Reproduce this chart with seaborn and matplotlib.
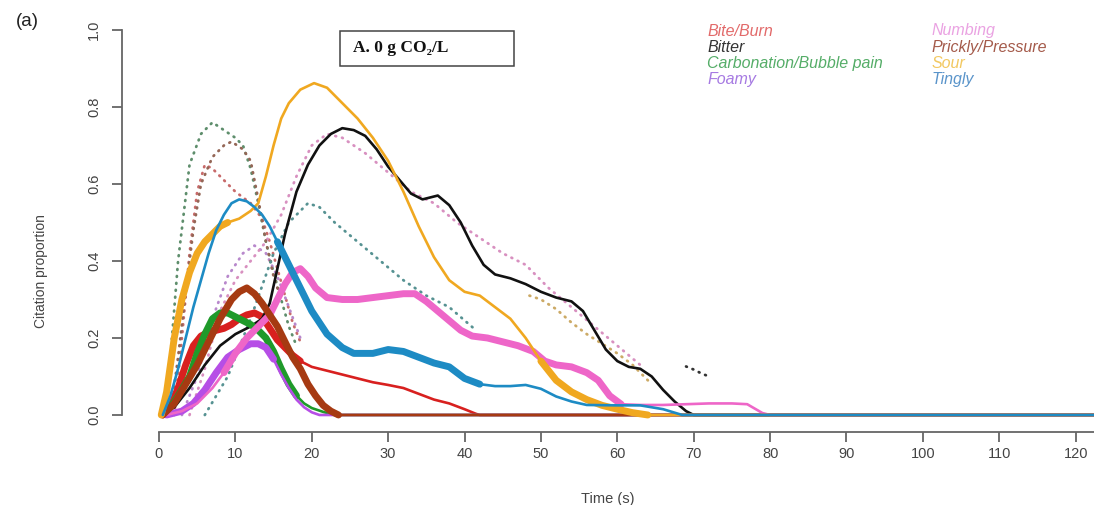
import seaborn as sns
import matplotlib.pyplot as plt
import pandas as pd
from matplotlib.patches import Rectangle

# attributes and colours
attributes = ["Bite/Burn", "Bitter", "Carbonation/Bubble pain", "Foamy",
              "Numbing", "Prickly/Pressure", "Sour", "Tingly"]
line_colors = ["#d8201f", "#111111", "#1f9a2a", "#b64ee6",
               "#ee66c8", "#a63a12", "#f0a820", "#1d8bc4"]
label_colors = ["#e26a6a", "#333333", "#55ad68", "#a67ae2",
                "#eaa2e2", "#a45a4a", "#f2c860", "#5a94ca"]
dot_colors = ["#c86a6a", "#333333", "#5e8e6c", "#b888cc",
              "#d890c0", "#946656", "#ccaa66", "#569292"]

# TDS curves (time in s, citation proportion)
bite_t = [0.5, 1.5, 2.5, 3.5, 4.5, 5.5, 6.5, 7.5, 8.5, 9.5, 10.5, 11.5, 12.5, 13.5, 14.5,
          15.5, 16.5, 17.5, 18.5, 20, 22, 24, 26, 28, 30, 32, 34, 36, 38, 40, 41.5, 42, 125]
bite_p = [0, 0.02, 0.07, 0.13, 0.18, 0.205, 0.215, 0.22, 0.225, 0.235, 0.25, 0.26, 0.265, 0.255, 0.225,
          0.195, 0.175, 0.155, 0.14, 0.125, 0.115, 0.105, 0.095, 0.085, 0.078, 0.07, 0.055, 0.04, 0.03, 0.015, 0.003, 0, 0]

bitter_t = [0.5, 2, 4, 6, 8, 10, 12, 13.5, 14.5, 15.5, 16.5, 18, 19.5, 21, 22.5, 24, 25.5, 27, 28.5, 30,
            31.5, 33, 34.5, 36.5, 38, 39.5, 41, 42.5, 44, 46, 48, 50, 52, 54, 55.5, 57, 58.5, 60, 61.5, 63,
            64.5, 66, 67.5, 69, 70, 125]
bitter_p = [0, 0.02, 0.07, 0.13, 0.18, 0.21, 0.23, 0.25, 0.29, 0.38, 0.47, 0.58, 0.65, 0.70, 0.73, 0.745, 0.74, 0.725, 0.69, 0.645,
            0.61, 0.575, 0.56, 0.57, 0.545, 0.50, 0.44, 0.39, 0.365, 0.355, 0.34, 0.32, 0.305, 0.295, 0.27, 0.22, 0.17, 0.14, 0.125, 0.12,
            0.10, 0.065, 0.035, 0.01, 0, 0]

carb_t = [0.5, 1.5, 2.5, 4, 5, 6, 7, 8, 9, 10, 11, 12, 13, 14, 15, 16, 17, 18, 19, 20, 21.5, 23, 125]
carb_p = [0, 0.02, 0.05, 0.10, 0.16, 0.21, 0.25, 0.265, 0.265, 0.255, 0.245, 0.235, 0.22, 0.20, 0.165, 0.12, 0.08, 0.05, 0.03, 0.018, 0.008, 0, 0]

foamy_t = [1, 3, 4.5, 6, 7.5, 9, 10.5, 12, 13, 14, 15, 16, 17, 18, 19, 20, 21, 125]
foamy_p = [0, 0.01, 0.03, 0.065, 0.11, 0.15, 0.17, 0.185, 0.185, 0.175, 0.145, 0.105, 0.07, 0.04, 0.02, 0.007, 0, 0]

numb_t = [1, 3, 5, 7, 8.5, 10, 11.5, 13, 14.5, 15.5, 16.5, 17.5, 18.5, 19.5, 20.5, 22, 24, 26, 28, 30,
          32, 33.5, 35, 36.5, 38, 39.5, 41, 43, 45, 47, 49, 50.5, 52, 54, 56, 57.5, 59, 60.5, 63, 66,
          69, 72, 75, 77, 79, 80, 125]
numb_p = [0, 0.01, 0.03, 0.07, 0.11, 0.16, 0.20, 0.23, 0.26, 0.30, 0.34, 0.37, 0.38, 0.36, 0.33, 0.305, 0.30, 0.30, 0.305, 0.31,
          0.315, 0.315, 0.295, 0.27, 0.245, 0.22, 0.205, 0.20, 0.19, 0.18, 0.165, 0.14, 0.13, 0.125, 0.11, 0.09, 0.05, 0.028, 0.026, 0.026,
          0.028, 0.03, 0.03, 0.028, 0.005, 0, 0]

prick_t = [0.5, 2, 3.5, 5, 6.5, 8, 9.5, 10.5, 11.5, 12.5, 13.5, 14.5, 15.5, 16.5, 17.5, 18.5, 19.5,
           20.5, 21.5, 22.5, 23.5, 125]
prick_p = [0, 0.03, 0.08, 0.13, 0.19, 0.25, 0.30, 0.32, 0.33, 0.315, 0.29, 0.26, 0.23, 0.19, 0.15, 0.12, 0.08,
           0.05, 0.025, 0.01, 0, 0]

sour_t = [0.3, 1, 2, 3, 4, 5, 6, 7, 8, 9, 10.5, 12, 13, 14, 15, 16, 17, 18.5, 20.3, 22, 24, 26, 28, 30,
          32, 34, 36, 38, 40, 42, 44, 46, 48, 50, 52, 54, 56, 58, 60, 62, 64, 125]
sour_p = [0, 0.06, 0.2, 0.3, 0.37, 0.42, 0.45, 0.47, 0.49, 0.50, 0.51, 0.53, 0.55, 0.62, 0.70, 0.77, 0.81, 0.845, 0.862, 0.85, 0.81, 0.77, 0.72, 0.66,
          0.58, 0.49, 0.41, 0.35, 0.32, 0.31, 0.28, 0.25, 0.20, 0.14, 0.09, 0.06, 0.04, 0.025, 0.015, 0.006, 0, 0]

tingly_t = [0.5, 1.5, 2.5, 3.5, 4.5, 5.5, 6.5, 7.5, 8.5, 9.5, 10.5, 11.5, 12.5, 13.5, 14.5, 15.5, 16.5,
            17.5, 18.5, 20, 22, 24, 25.5, 28, 30, 32, 34, 36, 38, 40, 42, 44, 46, 48, 50, 52, 54, 56,
            60, 63, 66, 68.5, 125]
tingly_p = [0, 0.05, 0.12, 0.2, 0.28, 0.35, 0.42, 0.48, 0.52, 0.55, 0.56, 0.555, 0.54, 0.52, 0.49, 0.45, 0.41,
            0.37, 0.33, 0.27, 0.21, 0.175, 0.16, 0.16, 0.17, 0.165, 0.15, 0.135, 0.125, 0.095, 0.08, 0.075, 0.075, 0.078, 0.068, 0.048, 0.035, 0.026,
            0.025, 0.025, 0.015, 0, 0]

# significant (dominant) stretches, drawn thick
sig_bite = [(0.5, 18.5)]
sig_bitter = [(70, 73)]
sig_carb = [(1.5, 18)]
sig_foamy = [(1, 15)]
sig_numb = [(8.5, 60.5)]
sig_prick = [(0.5, 23.5)]
sig_sour = [(0.3, 9), (50, 64.5)]
sig_tingly = [(15.5, 42)]

# dotted reference curves
dbite_t = [2, 3, 4, 5, 6, 7, 8, 10, 12, 13.5, 14.5, 15.5, 16.5, 17.5, 18.5]
dbite_p = [0, 0.2, 0.42, 0.58, 0.65, 0.64, 0.62, 0.58, 0.55, 0.51, 0.45, 0.38, 0.31, 0.24, 0.19]
dbitter_t = [69, 70, 71, 72]
dbitter_p = [0.126, 0.118, 0.108, 0.10]
dcarb_t = [0.5, 1.5, 2.5, 4, 5.5, 7, 8.5, 10, 11, 12, 13, 14, 15, 16, 17, 18]
dcarb_p = [0, 0.15, 0.40, 0.65, 0.73, 0.76, 0.74, 0.72, 0.70, 0.64, 0.55, 0.45, 0.37, 0.30, 0.23, 0.18]
dfoamy_t = [3, 5, 7, 9, 11, 12.5, 14, 15.5, 17, 18.5]
dfoamy_p = [0, 0.1, 0.25, 0.36, 0.42, 0.44, 0.42, 0.36, 0.28, 0.2]
dnumb_t = [4, 6, 8, 10, 12, 14, 16, 18, 20, 22, 24, 27, 30, 33, 36, 39, 42, 45, 48, 51, 54, 57, 60, 63]
dnumb_p = [0, 0.12, 0.27, 0.35, 0.40, 0.45, 0.52, 0.62, 0.70, 0.73, 0.72, 0.68, 0.63, 0.58, 0.55, 0.50, 0.46, 0.42, 0.39, 0.33, 0.28, 0.23, 0.18, 0.13]
dprick_t = [1.5, 2.5, 3.5, 4.5, 5.5, 7, 8.5, 9.5, 11, 12, 13, 14, 15, 16]
dprick_p = [0, 0.15, 0.32, 0.48, 0.60, 0.67, 0.70, 0.71, 0.69, 0.66, 0.56, 0.45, 0.36, 0.30]
dsour_t = [48.5, 50, 52, 54, 56, 58, 60, 62, 64]
dsour_p = [0.31, 0.30, 0.275, 0.24, 0.21, 0.185, 0.16, 0.13, 0.09]
dtingly_t = [6, 9, 12, 15, 17, 19.5, 21, 23, 26, 29, 32, 35, 38, 41.5]
dtingly_p = [0, 0.1, 0.25, 0.42, 0.5, 0.55, 0.54, 0.50, 0.45, 0.40, 0.35, 0.31, 0.28, 0.22]

curves = [(bite_t, bite_p), (bitter_t, bitter_p), (carb_t, carb_p), (foamy_t, foamy_p),
          (numb_t, numb_p), (prick_t, prick_p), (sour_t, sour_p), (tingly_t, tingly_p)]
sigs = [sig_bite, sig_bitter, sig_carb, sig_foamy, sig_numb, sig_prick, sig_sour, sig_tingly]
dotted = [(dbite_t, dbite_p), (dbitter_t, dbitter_p), (dcarb_t, dcarb_p), (dfoamy_t, dfoamy_p),
          (dnumb_t, dnumb_p), (dprick_t, dprick_p), (dsour_t, dsour_p), (dtingly_t, dtingly_p)]

sns.set_style("ticks")
plt.rcParams['font.family'] = ['Liberation Sans', 'DejaVu Sans']

fig = plt.figure(figsize=(10.94, 5.05), dpi=100)
ax = fig.add_axes([122 / 1094, 1 - 432 / 505, 1 - 122 / 1094, (432 - 14.6) / 505])

# dotted curves first
for (t, p), c in zip(dotted, dot_colors):
    df = pd.DataFrame({"time": t, "prop": p})
    sns.lineplot(data=df, x="time", y="prop", ax=ax, color=c, lw=2.0,
                 linestyle=(0, (0.3, 2.2)), dash_capstyle="round",
                 estimator=None, sort=False, legend=False)

# TDS curves, thin then thick where significant
for name, (t, p), c, sig in zip(attributes, curves, line_colors, sigs):
    df = pd.DataFrame({"time": t, "prop": p})
    sns.lineplot(data=df, x="time", y="prop", ax=ax, color=c, lw=1.9,
                 estimator=None, sort=False, legend=False, solid_capstyle="round")
    for a, b in sig:
        part = df[(df["time"] >= a) & (df["time"] <= b)]
        sns.lineplot(data=part, x="time", y="prop", ax=ax, color=c, lw=5.0,
                     estimator=None, sort=False, legend=False, solid_capstyle="round")

ax.set_xlim(-4.84, 122.4)
ax.set_ylim(-0.0442, 1.04)
ax.set_xticks(range(0, 121, 10))
ax.set_yticks([0, 0.2, 0.4, 0.6, 0.8, 1.0])
ax.set_yticklabels(["0.0", "0.2", "0.4", "0.6", "0.8", "1.0"], rotation=90, va="center")

for s in ["top", "right"]:
    ax.spines[s].set_visible(False)
ax.spines["left"].set_bounds(0, 1)
ax.spines["bottom"].set_bounds(0, 122.4)
for s in ["left", "bottom"]:
    ax.spines[s].set_color("#666666")
    ax.spines[s].set_linewidth(1.3)
ax.tick_params(axis="both", length=7, width=1.3, color="#666666",
               labelcolor="#444444", labelsize=10.5)
ax.tick_params(axis="x", pad=4)
ax.tick_params(axis="y", pad=8)

ax.set_xlabel("Time (s)", fontsize=10.5, color="#444444")
ax.set_ylabel("Citation proportion", fontsize=10, color="#444444")
ax.xaxis.set_label_coords((608 - 122) / 972, (432 - 492) / 417.4)
ax.yaxis.set_label_coords((48 - 122) / 972, (432 - 271) / 417.4)

fig.text(27 / 1094, 1 - 22 / 505, "(a)", fontsize=13.5, ha="center", va="center", color="#222222")

# sample box
fig.add_artist(Rectangle((340 / 1094, 1 - 66 / 505), 174 / 1094, 35 / 505,
                         transform=fig.transFigure, fill=False, ec="#444444", lw=1.1))
fig.text(353 / 1094, 1 - 48 / 505, "A. 0 g CO\u2082/L", fontsize=12.5, fontweight="bold",
         family=["Liberation Serif", "DejaVu Serif"], ha="left", va="center", color="#111111")

# legend as coloured italic text
for i, (name, c) in enumerate(zip(attributes, label_colors)):
    col, row = divmod(i, 4)
    x = (707 if col == 0 else 932) / 1094
    y = 1 - (31 + 16.3 * row) / 505
    fig.text(x, y, name, fontsize=11.5, style="italic", color=c, ha="left", va="center")

fig.savefig("out.png", dpi=100)
